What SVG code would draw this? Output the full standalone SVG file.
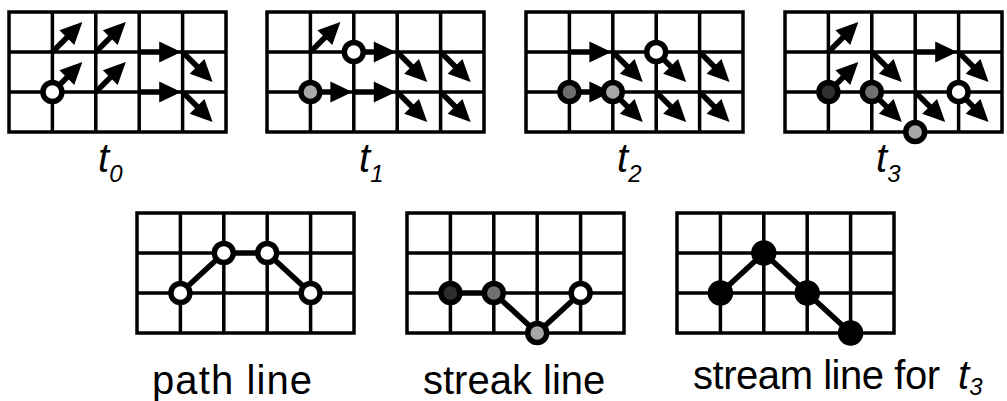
<svg xmlns="http://www.w3.org/2000/svg" width="1007" height="401" viewBox="0 0 1007 401">
  <style>
    .cell { fill: none; stroke: #000; stroke-width: 3.5; }
    .arr { stroke: #000; stroke-width: 5.5; fill: none; marker-end: url(#head); }
    .trace { stroke: #000; stroke-width: 5.5; fill: none; stroke-linejoin: round; }
    .p { stroke: #000; stroke-width: 5.5; }
    .lbl { font-family: "Liberation Sans", Arial, sans-serif; font-size: 40px; fill: #000; }
    .tl { font-family: "Liberation Sans", Arial, sans-serif; font-style: italic; font-size: 40px; fill: #000; }
    .sub { font-size: 24px; }
  </style>
  <defs>
    <marker id="head" markerUnits="userSpaceOnUse" markerWidth="22" markerHeight="21" refX="10" refY="10.5" orient="auto" overflow="visible">
      <path d="M0 0 L22 10.5 L0 21 Z" fill="#000"/>
    </marker>
    <!-- 5 x 3 cell grid, 217 x 120 -->
    <g id="grid">
      <rect x="0" y="0" width="217" height="120" fill="#fff" class="cell"/>
      <path class="cell" d="M43.4 0V120M86.8 0V120M130.2 0V120M173.6 0V120M0 40H217M0 80H217"/>
    </g>
  </defs>

  <rect width="1007" height="401" fill="#fff"/>

  <!-- time step t0 -->
  <g id="panel-t0" transform="translate(9,12)">
    <use href="#grid"/>
    <g id="vectors-t0">
      <line class="arr" x1="43.4" y1="40" x2="64.9" y2="18.5"/>
      <line class="arr" x1="86.8" y1="40" x2="108.3" y2="18.5"/>
      <line class="arr" x1="43.4" y1="80" x2="64.9" y2="58.5"/>
      <line class="arr" x1="86.8" y1="80" x2="108.3" y2="58.5"/>
      <line class="arr" x1="130.2" y1="40" x2="160.2" y2="40"/>
      <line class="arr" x1="130.2" y1="80" x2="160.2" y2="80"/>
      <line class="arr" x1="173.6" y1="40" x2="195.1" y2="61.5"/>
      <line class="arr" x1="173.6" y1="80" x2="195.1" y2="101.5"/>
    </g>
    <circle class="p" cx="43.4" cy="80" r="9.5" fill="#fff"/>
  </g>

  <!-- time step t1 -->
  <g id="panel-t1" transform="translate(267,12)">
    <use href="#grid"/>
    <g id="vectors-t1">
      <line class="arr" x1="43.4" y1="40" x2="64.9" y2="18.5"/>
      <line class="arr" x1="86.8" y1="40" x2="116.8" y2="40"/>
      <line class="arr" x1="130.2" y1="40" x2="151.7" y2="61.5"/>
      <line class="arr" x1="173.6" y1="40" x2="195.1" y2="61.5"/>
      <line class="arr" x1="43.4" y1="80" x2="73.4" y2="80"/>
      <line class="arr" x1="86.8" y1="80" x2="116.8" y2="80"/>
      <line class="arr" x1="130.2" y1="80" x2="151.7" y2="101.5"/>
      <line class="arr" x1="173.6" y1="80" x2="195.1" y2="101.5"/>
    </g>
    <circle class="p" cx="86.8" cy="40" r="9.5" fill="#fff"/>
    <circle class="p" cx="43.4" cy="80" r="9.5" fill="#a8a8a8"/>
  </g>

  <!-- time step t2 -->
  <g id="panel-t2" transform="translate(526,12)">
    <use href="#grid"/>
    <g id="vectors-t2">
      <line class="arr" x1="43.4" y1="40" x2="73.4" y2="40"/>
      <line class="arr" x1="86.8" y1="40" x2="108.3" y2="61.5"/>
      <line class="arr" x1="130.2" y1="40" x2="151.7" y2="61.5"/>
      <line class="arr" x1="173.6" y1="40" x2="195.1" y2="61.5"/>
      <line class="arr" x1="43.4" y1="80" x2="73.4" y2="80"/>
      <line class="arr" x1="86.8" y1="80" x2="108.3" y2="101.5"/>
      <line class="arr" x1="130.2" y1="80" x2="151.7" y2="101.5"/>
      <line class="arr" x1="173.6" y1="80" x2="195.1" y2="101.5"/>
    </g>
    <circle class="p" cx="130.2" cy="40" r="9.5" fill="#fff"/>
    <circle class="p" cx="43.4" cy="80" r="9.5" fill="#6e6e6e"/>
    <circle class="p" cx="86.8" cy="80" r="9.5" fill="#a8a8a8"/>
  </g>

  <!-- time step t3 -->
  <g id="panel-t3" transform="translate(785,12)">
    <use href="#grid"/>
    <g id="vectors-t3">
      <line class="arr" x1="43.4" y1="40" x2="64.9" y2="18.5"/>
      <line class="arr" x1="86.8" y1="40" x2="108.3" y2="61.5"/>
      <line class="arr" x1="130.2" y1="40" x2="160.2" y2="40"/>
      <line class="arr" x1="173.6" y1="40" x2="195.1" y2="61.5"/>
      <line class="arr" x1="43.4" y1="80" x2="64.9" y2="58.5"/>
      <line class="arr" x1="86.8" y1="80" x2="108.3" y2="101.5"/>
      <line class="arr" x1="130.2" y1="80" x2="151.7" y2="101.5"/>
      <line class="arr" x1="173.6" y1="80" x2="195.1" y2="101.5"/>
    </g>
    <circle class="p" cx="43.4" cy="80" r="9.5" fill="#303030"/>
    <circle class="p" cx="86.8" cy="80" r="9.5" fill="#707070"/>
    <circle class="p" cx="130.2" cy="120" r="9.5" fill="#a8a8a8"/>
    <circle class="p" cx="173.6" cy="80" r="9.5" fill="#fff"/>
  </g>

  <!-- time step labels -->
  <g id="time-labels">
    <text class="tl" x="98" y="172">t<tspan class="sub" dy="10">0</tspan></text>
    <text class="tl" x="359" y="172">t<tspan class="sub" dy="10">1</tspan></text>
    <text class="tl" x="617" y="172">t<tspan class="sub" dy="10">2</tspan></text>
    <text class="tl" x="876" y="172">t<tspan class="sub" dy="10">3</tspan></text>
  </g>

  <!-- path line -->
  <g id="panel-path" transform="translate(137,213)">
    <use href="#grid"/>
    <polyline class="trace" points="43.4,80 86.8,40 130.2,40 173.6,80"/>
    <circle class="p" cx="43.4" cy="80" r="9.5" fill="#fff"/>
    <circle class="p" cx="86.8" cy="40" r="9.5" fill="#fff"/>
    <circle class="p" cx="130.2" cy="40" r="9.5" fill="#fff"/>
    <circle class="p" cx="173.6" cy="80" r="9.5" fill="#fff"/>
  </g>

  <!-- streak line -->
  <g id="panel-streak" transform="translate(407,213)">
    <use href="#grid"/>
    <polyline class="trace" points="43.4,80 86.8,80 130.2,120 173.6,80"/>
    <circle class="p" cx="43.4" cy="80" r="9.5" fill="#2e2e2e"/>
    <circle class="p" cx="86.8" cy="80" r="9.5" fill="#707070"/>
    <circle class="p" cx="130.2" cy="120" r="9.5" fill="#a8a8a8"/>
    <circle class="p" cx="173.6" cy="80" r="9.5" fill="#fff"/>
  </g>

  <!-- stream line -->
  <g id="panel-stream" transform="translate(677,213)">
    <use href="#grid"/>
    <polyline class="trace" points="43.4,80 86.8,40 130.2,80 173.6,120"/>
    <circle class="p" cx="43.4" cy="80" r="10" fill="#000"/>
    <circle class="p" cx="86.8" cy="40" r="10" fill="#000"/>
    <circle class="p" cx="130.2" cy="80" r="10" fill="#000"/>
    <circle class="p" cx="173.6" cy="120" r="10" fill="#000"/>
  </g>

  <!-- captions -->
  <g id="captions">
    <text class="lbl" x="152" y="394" textLength="160" lengthAdjust="spacing">path line</text>
    <text class="lbl" x="423" y="394">streak line</text>
    <text class="lbl" x="693" y="389" textLength="247" lengthAdjust="spacing">stream line for</text>
    <text class="tl" x="958" y="389">t<tspan class="sub" dy="6">3</tspan></text>
  </g>
</svg>
